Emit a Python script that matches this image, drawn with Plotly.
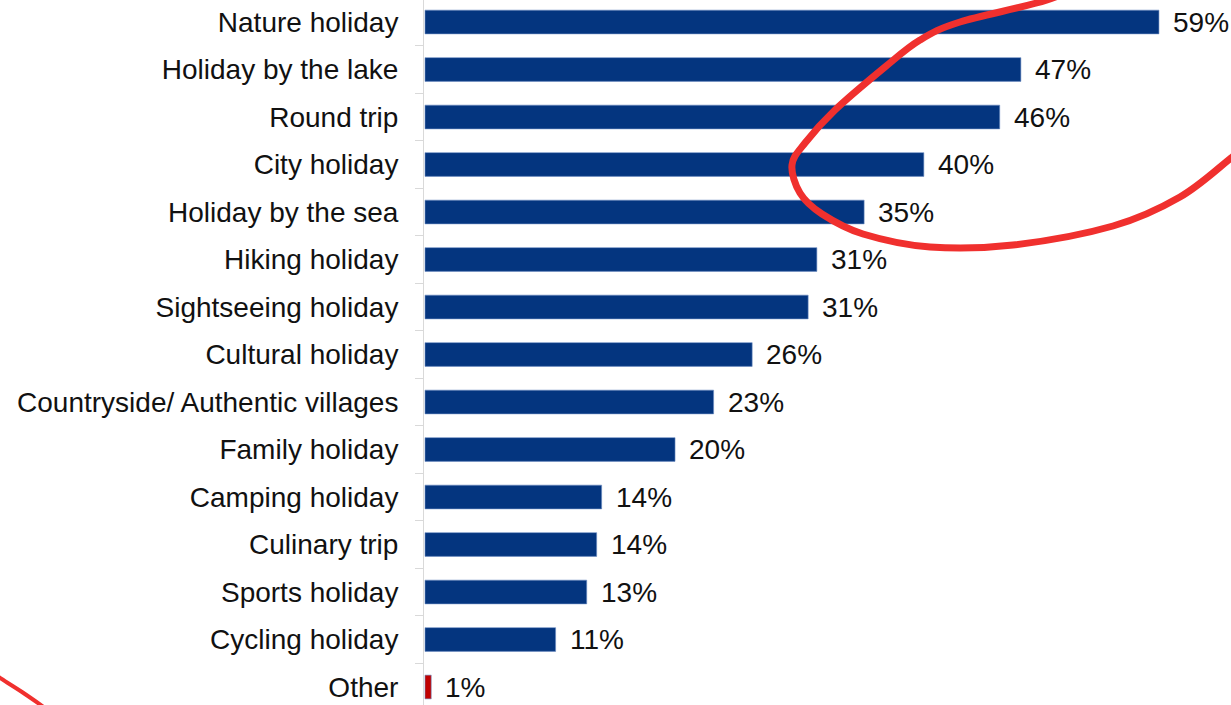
import plotly.graph_objects as go

categories = ["Nature holiday", "Holiday by the lake", "Round trip", "City holiday",
              "Holiday by the sea", "Hiking holiday", "Sightseeing holiday", "Cultural holiday",
              "Countryside/ Authentic villages", "Family holiday", "Camping holiday",
              "Culinary trip", "Sports holiday", "Cycling holiday", "Other"]
# bar lengths (percent)
values = [59.0, 47.9, 46.2, 40.1, 35.3, 31.5, 30.8, 26.3, 23.2, 20.1, 14.2, 13.8, 13.0, 10.5, 0.5]
# labels as printed on the picture
labels = ["59%", "47%", "46%", "40%", "35%", "31%", "31%", "26%", "23%", "20%",
          "14%", "14%", "13%", "11%", "1%"]
bar_colors = ["#04357F"] * 14 + ["#C00000"]

FONT = "Liberation Sans, Arial, sans-serif"
OFF = 0                      # body margin removed by post_script
W, H = 1231 - OFF, 705 - OFF
L, R, T, B = 424 - OFF, 0, 0, 0
PW, PH = W - L - R, H - T - B

fig = go.Figure()
fig.add_trace(go.Bar(
    y=categories, x=values, orientation="h",
    marker=dict(color=bar_colors, line=dict(color="#6F8FC4", width=0.6)),
    width=0.5, hoverinfo="skip",
))

for c, v, t in zip(categories, values, labels):
    fig.add_annotation(x=v, y=c, text=t, xref="x", yref="y", showarrow=False,
                       xanchor="left", yanchor="middle", xshift=12,
                       font=dict(family=FONT, size=28, color="#111111"))


def px2paper(px, py):
    return ((px - OFF - L) / PW, 1 - (py - OFF - T) / PH)


def catmull_path(pts):
    p = [px2paper(x, y) for x, y in pts]
    d = f"M {p[0][0]:.5f},{p[0][1]:.5f}"
    for i in range(len(p) - 1):
        p0 = p[i - 1] if i > 0 else p[i]
        p1, p2 = p[i], p[i + 1]
        p3 = p[i + 2] if i + 2 < len(p) else p[i + 1]
        c1 = (p1[0] + (p2[0] - p0[0]) / 6, p1[1] + (p2[1] - p0[1]) / 6)
        c2 = (p2[0] - (p3[0] - p1[0]) / 6, p2[1] - (p3[1] - p1[1]) / 6)
        d += f" C {c1[0]:.5f},{c1[1]:.5f} {c2[0]:.5f},{c2[1]:.5f} {p2[0]:.5f},{p2[1]:.5f}"
    return d


ellipse_pts = [(1095, -22), (1047, 0), (960, 22), (920, 40), (885, 67), (835, 110),
               (805, 143), (792, 165), (800, 193), (822, 214), (863, 234), (930, 247),
               (1013, 245), (1113, 226), (1180, 197), (1231, 158), (1262, 132)]
fig.add_shape(type="path", path=catmull_path(ellipse_pts), xref="paper", yref="paper",
              line=dict(color="#F0302E", width=7), layer="above")

arc_pts = [(-12, 670), (0, 678), (22, 692), (48, 710)]
fig.add_shape(type="path", path=catmull_path(arc_pts), xref="paper", yref="paper",
              line=dict(color="#F0302E", width=4), layer="above")

px_per_unit = 47.5
first_center = 22 - OFF
top_val = -(first_center - T) / px_per_unit
bot_val = top_val + PH / px_per_unit

x_scale = 12.44
fig.update_layout(
    width=W, height=H,
    margin=dict(l=L, r=R, t=T, b=B),
    paper_bgcolor="white", plot_bgcolor="white",
    showlegend=False,
    font=dict(family=FONT, size=28, color="#111111"),
    xaxis=dict(range=[-1 / x_scale, (PW - 1) / x_scale], visible=False, showgrid=False, zeroline=False),
    yaxis=dict(type="category", categoryorder="array", categoryarray=categories,
               range=[bot_val, top_val], showline=True, linecolor="#D9D9D9", linewidth=1,
               ticks="outside", tickson="boundaries", ticklen=8, tickcolor="#D9D9D9",
               ticklabelstandoff=19, showgrid=False, zeroline=False,
               tickfont=dict(family=FONT, size=28, color="#111111")),
)

fig.write_html("out.html", config={"displayModeBar": False},
               post_script="document.body.style.margin='0';document.body.style.overflow='hidden';")
